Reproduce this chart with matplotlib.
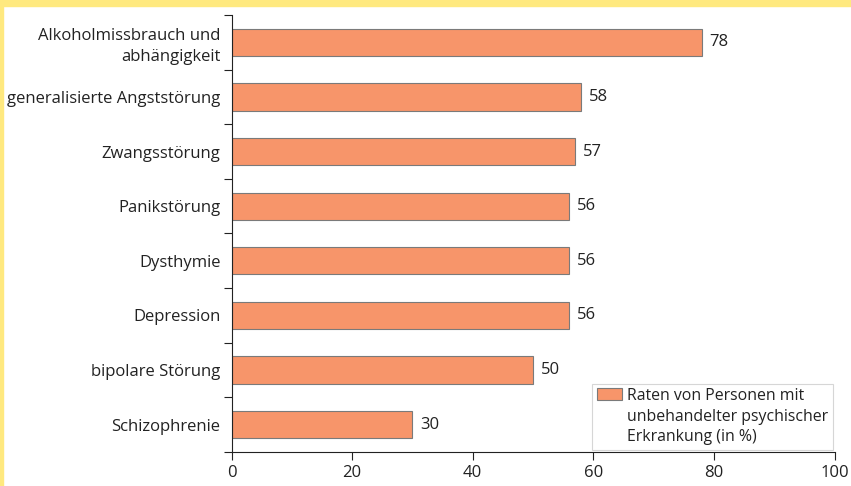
import matplotlib.pyplot as plt
from matplotlib.patches import Rectangle

categories = ["Alkoholmissbrauch und\nabhängigkeit", "generalisierte Angststörung",
              "Zwangsstörung", "Panikstörung", "Dysthymie", "Depression",
              "bipolare Störung", "Schizophrenie"]
values = [78, 58, 57, 56, 56, 56, 50, 30]
legend_label = "Raten von Personen mit\nunbehandelter psychischer\nErkrankung (in %)"

plt.rcParams['font.family'] = ['Open Sans', 'DejaVu Sans']
bar_color = '#F7956A'
text_color = '#222222'
fs = 12

fig = plt.figure(figsize=(8.51, 4.86), dpi=100)
fig.patch.set_facecolor('white')
# yellow frame on top and left
fig.patches.append(Rectangle((0, 1 - 6 / 486), 1, 6 / 486, transform=fig.transFigure,
                             color='#FFE97F', zorder=0))
fig.patches.append(Rectangle((0, 0), 3 / 851, 1, transform=fig.transFigure,
                             color='#FFE97F', zorder=0))

ax = fig.add_axes([231.5 / 851, 34 / 486, 603 / 851, 437 / 486])
n = len(categories)
pos = list(range(n))
ax.barh(pos, values, height=0.5, color=bar_color, edgecolor='#7a7a7a',
        linewidth=0.8, label=legend_label)
for p, v in zip(pos, values):
    ax.text(v + 1.3, p, str(v), va='center', ha='left', fontsize=fs, color=text_color)

ax.set_xlim(0, 100)
ax.set_ylim(n - 0.5, -0.5)
ax.set_xticks([0, 20, 40, 60, 80, 100])
ax.tick_params(axis='x', labelsize=fs, colors=text_color, length=6, width=0.8, pad=3)
ax.set_yticks(pos)
ax.set_yticklabels(categories, fontsize=fs, color=text_color, linespacing=1.35)
ax.set_yticks([i - 0.5 for i in range(n + 1)], minor=True)
ax.tick_params(axis='y', which='major', length=0, pad=8)
ax.tick_params(axis='y', which='minor', length=6, width=0.8, color='#222222')
for lbl in ax.get_yticklabels():
    lbl.set_multialignment('right')
ax.spines['top'].set_visible(False)
ax.spines['right'].set_visible(False)
ax.spines['left'].set_color('#222222')
ax.spines['bottom'].set_color('#222222')
ax.spines['left'].set_linewidth(0.8)
ax.spines['bottom'].set_linewidth(0.8)

leg = ax.legend(loc='lower right', bbox_to_anchor=(1.002, 0.0), fontsize=11.4,
                frameon=True, fancybox=False, edgecolor='#cccccc',
                handlelength=1.6, handleheight=0.7, handletextpad=0.35,
                borderpad=0.3, borderaxespad=0.15, labelspacing=0.2)
for t in leg.get_texts():
    t.set_color(text_color)
    t.set_linespacing(1.35)
leg.get_frame().set_linewidth(0.8)
leg._legend_handle_box.get_children()[0].get_children()[0].align = 'top'

fig.savefig('out.png', dpi=100)
